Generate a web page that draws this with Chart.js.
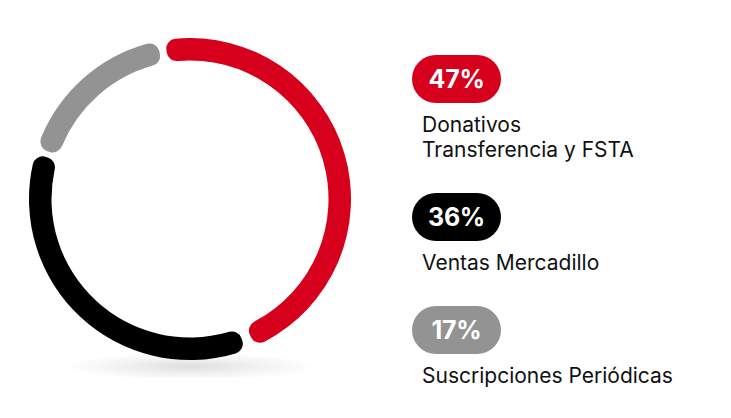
<!DOCTYPE html>
<html>
<head>
<meta charset="utf-8">
<script src="https://cdn.jsdelivr.net/npm/chart.js@4.4.1/dist/chart.umd.min.js"></script>
<style>
  html, body { margin: 0; padding: 0; background: #fff; }
  body { width: 731px; height: 418px; position: relative; overflow: hidden; font-family: Inter, "Noto Sans", sans-serif; }
  #ring { position: absolute; left: 29px; top: 38px; width: 322px; height: 340px; }
  #legend { position: absolute; left: 412px; top: 55px; }
  .item { margin-bottom: 31px; }
  .pill { width: 89px; height: 48px; border-radius: 24px; color: #fff; font-weight: 700; font-size: 25px;
          display: flex; align-items: center; justify-content: center; letter-spacing: -0.3px; }
  .label { margin-top: 9px; margin-left: 10px; font-size: 21px; line-height: 25px; color: #111; white-space: nowrap; }
</style>
</head>
<body>
<div id="ring"><canvas id="myChart"></canvas></div>
<div id="legend"></div>
<script>
var labels = [["Donativos", "Transferencia y FSTA"], ["Ventas Mercadillo"], ["Suscripciones Periódicas"]];
var values = [47, 36, 17];
var colors = ["#D6001C", "#000000", "#939393"];

// soft shadow under the ring
var shadow = {
  id: 'shadow',
  beforeDatasetsDraw: function (chart) {
    var arc = chart.getDatasetMeta(0).data[0];
    if (!arc) return;
    var c = chart.ctx;
    var y = arc.y + arc.outerRadius + 10;
    c.save();
    c.translate(arc.x, y);
    c.scale(1, 0.11);
    var g = c.createRadialGradient(0, 0, 0, 0, 0, 125);
    g.addColorStop(0, 'rgba(0,0,0,0.13)');
    g.addColorStop(0.5, 'rgba(0,0,0,0.06)');
    g.addColorStop(1, 'rgba(0,0,0,0)');
    c.fillStyle = g;
    c.beginPath();
    c.arc(0, 0, 125, 0, Math.PI * 2);
    c.fill();
    c.restore();
  }
};

var ctx = document.getElementById("myChart").getContext('2d');
var myChart = new Chart(ctx, {
    type: 'doughnut',
    data: {
        labels: labels,
        datasets: [{
            data: values,
            backgroundColor: colors,
            borderWidth: 0,
            borderRadius: 10,
            spacing: 7
        }]
    },
    options: {
        responsive: true,
        maintainAspectRatio: false,
        animation: false,
        cutout: 135,
        rotation: -11,
        layout: { padding: { bottom: 18 } },
        plugins: { legend: { display: false }, tooltip: { enabled: false } }
    },
    plugins: [shadow]
});

var legend = document.getElementById('legend');
labels.forEach(function (lab, i) {
    var item = document.createElement('div');
    item.className = 'item';
    var pill = document.createElement('div');
    pill.className = 'pill';
    pill.style.background = colors[i];
    pill.textContent = values[i] + '%';
    var text = document.createElement('div');
    text.className = 'label';
    text.innerHTML = lab.join('<br>');
    item.appendChild(pill);
    item.appendChild(text);
    legend.appendChild(item);
});
</script>
</body>
</html>
